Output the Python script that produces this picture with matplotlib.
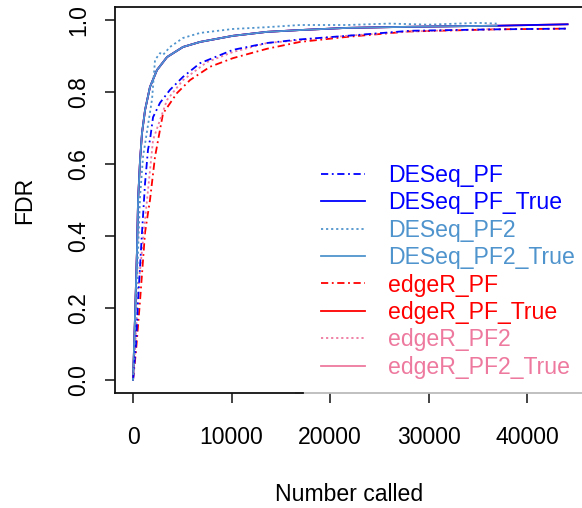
import matplotlib
matplotlib.use("Agg")
import matplotlib.pyplot as plt

plt.rcParams['font.family'] = ['Liberation Sans', 'DejaVu Sans']

# FDR curves (number called, FDR)
true_x = [0, 200, 400, 510, 710, 910, 1220, 1720, 2430, 3450, 5070, 6800,
          10140, 13590, 16940, 21700, 28000, 36900, 44100]
true_y = [0.0, 0.175, 0.36, 0.50, 0.61, 0.686, 0.75, 0.814, 0.861, 0.897, 0.925, 0.939,
          0.956, 0.967, 0.972, 0.978, 0.981, 0.984, 0.988]

deseq_pf_x = [0, 300, 510, 910, 1220, 1520, 1720, 2030, 2740, 3750, 5070, 6800,
              10140, 13590, 16940, 21700, 28100, 36900, 44100]
deseq_pf_y = [0.0, 0.1, 0.22, 0.41, 0.547, 0.64, 0.667, 0.73, 0.77, 0.806, 0.842, 0.88,
              0.917, 0.936, 0.946, 0.956, 0.97, 0.974, 0.976]

deseq_pf2_x = [0, 300, 710, 1014, 1930, 2230, 2740, 3040, 3750, 5070, 6800,
               10140, 13590, 16940, 21700, 26000, 30000, 35000, 36900]
deseq_pf2_y = [0.0, 0.2, 0.508, 0.62, 0.78, 0.889, 0.908, 0.903, 0.925, 0.95, 0.964,
               0.975, 0.98, 0.986, 0.986, 0.99, 0.987, 0.992, 0.99]

edger_pf_x = [0, 300, 710, 1220, 1720, 2230, 3040, 4460, 5780, 7810,
              10140, 13590, 16940, 21700, 28000, 36900, 44100]
edger_pf_y = [0.0, 0.08, 0.22, 0.41, 0.5, 0.62, 0.74, 0.797, 0.833, 0.87,
              0.894, 0.92, 0.939, 0.953, 0.968, 0.974, 0.976]

edger_pf2_x = [0, 200, 510, 910, 1420, 2030, 3450, 5070, 7500,
               10140, 13590, 16940, 21700, 28000, 36900]
edger_pf2_y = [0.0, 0.08, 0.25, 0.36, 0.5, 0.667, 0.778, 0.833, 0.883,
               0.911, 0.936, 0.944, 0.956, 0.968, 0.975]

labels = ['DESeq_PF', 'DESeq_PF_True', 'DESeq_PF2', 'DESeq_PF2_True',
          'edgeR_PF', 'edgeR_PF_True', 'edgeR_PF2', 'edgeR_PF2_True']
colors = ['#0000FF', '#0000FF', '#4F94CD', '#4F94CD',
          '#FF0000', '#FF0000', '#EE799F', '#EE799F']
styles = [(0, (4, 2, 1, 2)), '-', (0, (1.2, 1.6)), '-',
          (0, (4, 2, 1, 2)), '-', (0, (1.2, 1.6)), '-']

series = [
    (deseq_pf_x, deseq_pf_y),
    (true_x, true_y),
    (deseq_pf2_x, deseq_pf2_y),
    (true_x[:-1], true_y[:-1]),
    (edger_pf_x, edger_pf_y),
    (true_x, true_y),
    (edger_pf2_x, edger_pf2_y),
    (true_x[:-1], true_y[:-1]),
]

fig = plt.figure(figsize=(5.82, 5.08), dpi=100)
ax = fig.add_axes([0.1976, 0.2264, 0.8058, 0.7598])

# solid curves first (edgeR under DESeq), dotted/dashed ones on top
order = [7, 5, 1, 3, 4, 6, 0, 2]
handles = {}
for i in order:
    x, y = series[i]
    ln, = ax.plot(x, y, color=colors[i], linestyle=styles[i], lw=1.3, label=labels[i])
    handles[i] = ln

ax.set_xlim(-1830, 45760)
ax.set_ylim(-0.036, 1.036)
ax.set_xticks([0, 10000, 20000, 30000, 40000])
ax.set_yticks([0.0, 0.2, 0.4, 0.6, 0.8, 1.0])
ax.set_yticklabels(['0.0', '0.2', '0.4', '0.6', '0.8', '1.0'], rotation=90, va='center')
ax.tick_params(axis='both', direction='out', length=7, width=1.2, labelsize=16.6, color='#222222')
ax.tick_params(axis='x', pad=17)
ax.tick_params(axis='y', pad=11)

for side in ['top', 'left', 'bottom']:
    ax.spines[side].set_linewidth(1.3)
    ax.spines[side].set_color('#111111')
ax.spines['right'].set_visible(False)
ax.spines['bottom'].set_bounds(-1830, 17240)
ax.plot([0.3865, 1.0], [0, 0], transform=ax.transAxes, color='#BBBBBB', lw=1.3, clip_on=False)

ax.set_xlabel('Number called', fontsize=16.6, labelpad=24)
ax.set_ylabel('FDR', fontsize=16.6, labelpad=22)

leg = ax.legend([handles[i] for i in range(8)], labels, loc='upper left',
                bbox_to_anchor=(321 / 582, 1 - 164 / 508), bbox_transform=fig.transFigure,
                frameon=False, fontsize=16.6, handlelength=1.9, handletextpad=1.0,
                labelspacing=0.19, borderaxespad=0, borderpad=0)
for txt, c in zip(leg.get_texts(), colors):
    txt.set_color(c)

fig.savefig('out.png', dpi=100)
